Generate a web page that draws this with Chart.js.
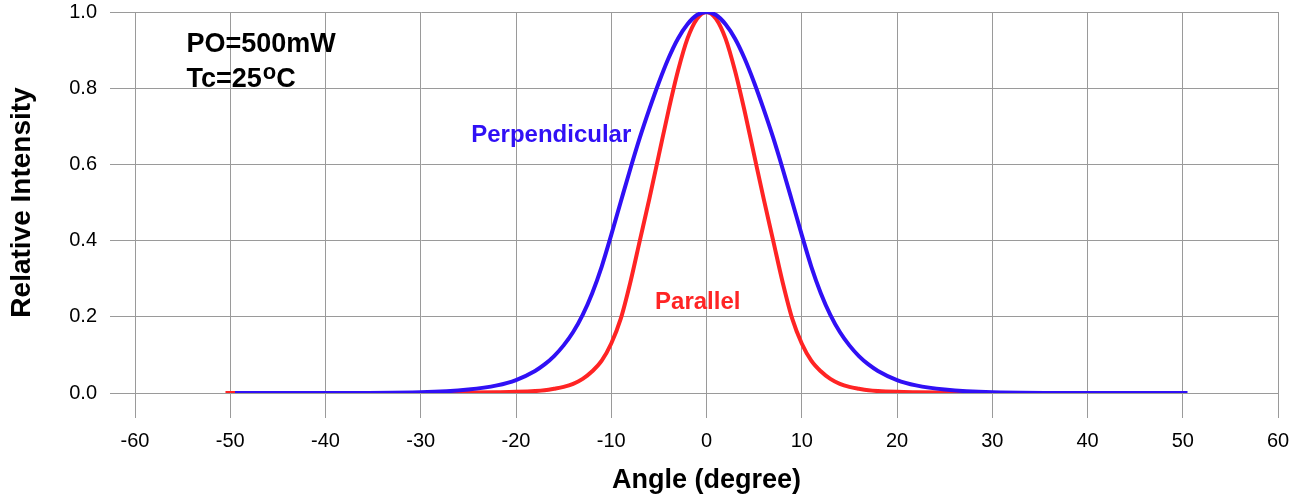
<!DOCTYPE html>
<html>
<head>
<meta charset="utf-8">
<script src="https://cdn.jsdelivr.net/npm/chart.js@4"></script>
<style>
  body { margin: 0; background: #fff; }
  canvas { display: block; }
</style>
</head>
<body>
<canvas id="beam" width="1295" height="500"></canvas>
<script>
// beam divergence
var angles = [-50, -40, -30, -25, -22, -20, -18, -17, -16, -15, -14, -13, -12, -11, -10, -9, -8, -7, -6, -5, -4, -3, -2, -1, 0,
              1, 2, 3, 4, 5, 6, 7, 8, 9, 10, 11, 12, 13, 14, 15, 16, 17, 18, 20, 22, 25, 30, 40, 50];

var perpendicular = [0, 0, 0.002, 0.009, 0.02, 0.034, 0.058, 0.075, 0.097, 0.125, 0.16, 0.205, 0.262, 0.332, 0.415, 0.502, 0.588, 0.67, 0.745, 0.815, 0.878, 0.93, 0.968, 0.992, 1.0,
                     0.992, 0.968, 0.93, 0.878, 0.815, 0.745, 0.67, 0.588, 0.502, 0.415, 0.332, 0.262, 0.205, 0.16, 0.125, 0.097, 0.075, 0.058, 0.034, 0.02, 0.009, 0.002, 0, 0];

var parallel = [0, 0, 0, 0.001, 0.002, 0.003, 0.005, 0.007, 0.011, 0.016, 0.024, 0.037, 0.057, 0.085, 0.13, 0.195, 0.29, 0.40, 0.51, 0.625, 0.74, 0.845, 0.93, 0.982, 1.0,
                0.982, 0.93, 0.845, 0.74, 0.625, 0.51, 0.40, 0.29, 0.195, 0.13, 0.085, 0.057, 0.037, 0.024, 0.016, 0.011, 0.007, 0.005, 0.003, 0.002, 0.001, 0, 0, 0];

// the two traces do not start / stop at exactly the same angle
var perpendicularRange = [-49.5, 50.5];
var parallelRange = [-50.5, 50];

var xTicks = [-60, 60, 10];
var yTicks = [0, 1, 0.2];

var blue = "#3010f5";
var red = "#ff2424";
var gridColor = "#9a9a9a";
var fontFamily = "'Liberation Sans', Arial, sans-serif";

function points(values, range) {
    return angles.map(function (a, i) {
        var x = a;
        if (i === 0) x = range[0];
        if (i === angles.length - 1) x = range[1];
        return { x: x, y: values[i] };
    });
}

// text labels inside the plot, placed in data coordinates
var notes = [
    { text: "PO=500mW", x: -54.6, y: 0.896, color: "#000", size: 27 },
    { text: "Tc=25", sup: "o", after: "C", x: -54.6, y: 0.804, color: "#000", size: 27 },
    { text: "Perpendicular", x: -24.7, y: 0.66, color: blue, size: 24 },
    { text: "Parallel", x: -5.4, y: 0.22, color: red, size: 24 }
];

var notesPlugin = {
    id: "notes",
    afterDatasetsDraw: function (chart) {
        var ctx = chart.ctx;
        var xs = chart.scales.x, ys = chart.scales.y;
        ctx.save();
        ctx.textBaseline = "alphabetic";
        ctx.textAlign = "left";
        notes.forEach(function (n) {
            var px = xs.getPixelForValue(n.x);
            var py = ys.getPixelForValue(n.y);
            ctx.fillStyle = n.color;
            ctx.font = "bold " + n.size + "px " + fontFamily;
            ctx.fillText(n.text, px, py);
            if (n.sup) {
                var w = ctx.measureText(n.text).width;
                ctx.font = "bold " + Math.round(n.size * 0.8) + "px " + fontFamily;
                ctx.fillText(n.sup, px + w + 1, py - 8);
                var w2 = ctx.measureText(n.sup).width;
                ctx.font = "bold " + n.size + "px " + fontFamily;
                ctx.fillText(n.after, px + w + w2 + 1, py);
            }
        });
        ctx.restore();
    }
};

var config = {
    type: "scatter",
    data: {
        datasets: [
            { label: "Perpendicular", data: points(perpendicular, perpendicularRange),
              borderColor: blue, backgroundColor: blue },
            { label: "Parallel", data: points(parallel, parallelRange),
              borderColor: red, backgroundColor: red }
        ]
    },
    options: {
        responsive: false,
        animation: false,
        devicePixelRatio: 1,
        showLine: true,
        layout: { padding: { top: 12, right: 17, left: 0, bottom: 0 } },
        elements: {
            point: { radius: 0, hoverRadius: 0 },
            line: { borderWidth: 4, cubicInterpolationMode: "monotone" }
        },
        plugins: {
            legend: { display: false },
            tooltip: { enabled: false }
        },
        scales: {
            x: {
                type: "linear",
                min: xTicks[0], max: xTicks[1],
                ticks: { stepSize: xTicks[2], color: "#000", padding: 11,
                         font: { family: fontFamily, size: 20 } },
                grid: { color: gridColor, lineWidth: 1, tickLength: 25, tickColor: gridColor },
                border: { color: gridColor },
                title: { display: true, text: "Angle (degree)", color: "#000",
                         font: { family: fontFamily, size: 27, weight: "bold" },
                         padding: { top: 0, bottom: 3 } },
                afterFit: function (scale) {
                    scale.height = 107;
                    scale.paddingLeft = 0;
                    scale.paddingRight = 0;
                }
            },
            y: {
                type: "linear",
                min: yTicks[0], max: yTicks[1],
                ticks: { stepSize: yTicks[2], color: "#000", padding: 13,
                         font: { family: fontFamily, size: 20 },
                         callback: function (v) { return v.toFixed(1); } },
                grid: { color: gridColor, lineWidth: 1, tickLength: 25, tickColor: gridColor },
                border: { color: gridColor },
                title: { display: true, text: "Relative Intensity", color: "#000",
                         font: { family: fontFamily, size: 28, weight: "bold" },
                         padding: { top: 5, bottom: 0 } },
                afterFit: function (scale) {
                    scale.width = 135;
                    scale.paddingTop = 0;
                    scale.paddingBottom = 0;
                }
            }
        }
    },
    plugins: [notesPlugin]
};

var beamChart = new Chart(document.getElementById("beam"), config);
</script>
</body>
</html>
